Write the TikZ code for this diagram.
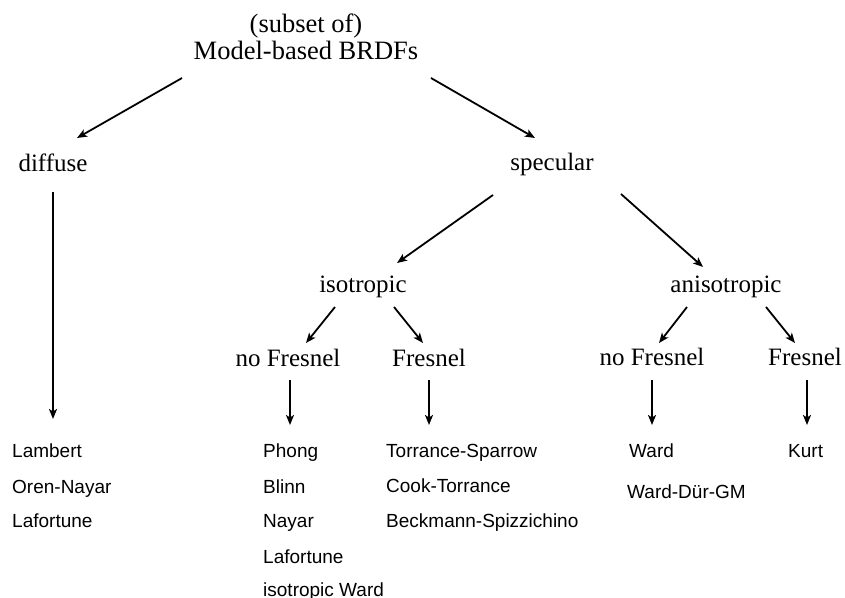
\documentclass[tikz,border=0pt]{standalone}
\usepackage{fontspec}
\setmainfont{Liberation Serif}
\newfontfamily\arialfont{Liberation Sans}
\usetikzlibrary{arrows.meta}
\begin{document}
\begin{tikzpicture}[x=1pt,y=-1pt,
  cat/.style={inner sep=0pt,anchor=base,font=\fontsize{25}{27}\selectfont},
  leaf/.style={inner sep=0pt,anchor=base west,font=\arialfont\fontsize{19}{22}\selectfont},
  conn/.style={line width=1.8pt,-{Stealth[length=10pt,width=8pt,inset=2.5pt]}}]
\useasboundingbox (0,0) rectangle (845,597);
% category nodes
\node[cat,align=center,font=\fontsize{26.5}{27}\selectfont] (root) at (306,59) {(subset of)\\Model-based BRDFs};
\node[cat] (diffuse) at (53,171) {diffuse};
\node[cat] (specular) at (552,170) {specular};
\node[cat] (iso) at (363,292) {isotropic};
\node[cat] (aniso) at (726,292) {anisotropic};
\node[cat] (isonf) at (288,366) {no Fresnel};
\node[cat] (isof) at (429,366) {Fresnel};
\node[cat] (anisonf) at (652,365) {no Fresnel};
\node[cat] (anisof) at (805,365) {Fresnel};
% leaves
\node[leaf] (lambert) at (12,457) {Lambert};
\node[leaf] (oren) at (12,493) {Oren-Nayar};
\node[leaf] (lafd) at (12,527) {Lafortune};
\node[leaf] (phong) at (263,457) {Phong};
\node[leaf] (blinn) at (263,493) {Blinn};
\node[leaf] (nayar) at (263,527) {Nayar};
\node[leaf] (lafi) at (263,563) {Lafortune};
\node[leaf] (isoward) at (263,596) {isotropic Ward};
\node[leaf] (ts) at (386,457) {Torrance-Sparrow};
\node[leaf] (ct) at (386,492) {Cook-Torrance};
\node[leaf] (bs) at (386,527) {Beckmann-Spizzichino};
\node[leaf] (ward) at (629,457) {Ward};
\node[leaf] (wdg) at (627,498) {Ward-Dür-GM};
\node[leaf] (kurt) at (788,457) {Kurt};
% connector ends
\coordinate (r1s) at (182,78);  \coordinate (r1e) at (77,138);
\coordinate (r2s) at (431,78);  \coordinate (r2e) at (535,138);
\coordinate (d1s) at (53,192);  \coordinate (d1e) at (53,419);
\coordinate (s1s) at (493,195); \coordinate (s1e) at (397,263);
\coordinate (s2s) at (621,194); \coordinate (s2e) at (703,267);
\coordinate (i1s) at (335,307); \coordinate (i1e) at (306,343);
\coordinate (i2s) at (394,307); \coordinate (i2e) at (423,343);
\coordinate (a1s) at (687,307); \coordinate (a1e) at (659,343);
\coordinate (a2s) at (766,307); \coordinate (a2e) at (795,343);
\coordinate (v1s) at (290,380); \coordinate (v1e) at (290,425);
\coordinate (v2s) at (429,380); \coordinate (v2e) at (429,425);
\coordinate (v3s) at (652,380); \coordinate (v3e) at (652,425);
\coordinate (v4s) at (807,380); \coordinate (v4e) at (807,425);
% connectors
\draw[conn] (r1s) -- (r1e);
\draw[conn] (r2s) -- (r2e);
\draw[conn] (d1s) -- (d1e);
\draw[conn] (s1s) -- (s1e);
\draw[conn] (s2s) -- (s2e);
\draw[conn] (i1s) -- (i1e);
\draw[conn] (i2s) -- (i2e);
\draw[conn] (a1s) -- (a1e);
\draw[conn] (a2s) -- (a2e);
\draw[conn] (v1s) -- (v1e);
\draw[conn] (v2s) -- (v2e);
\draw[conn] (v3s) -- (v3e);
\draw[conn] (v4s) -- (v4e);
\end{tikzpicture}
\end{document}
